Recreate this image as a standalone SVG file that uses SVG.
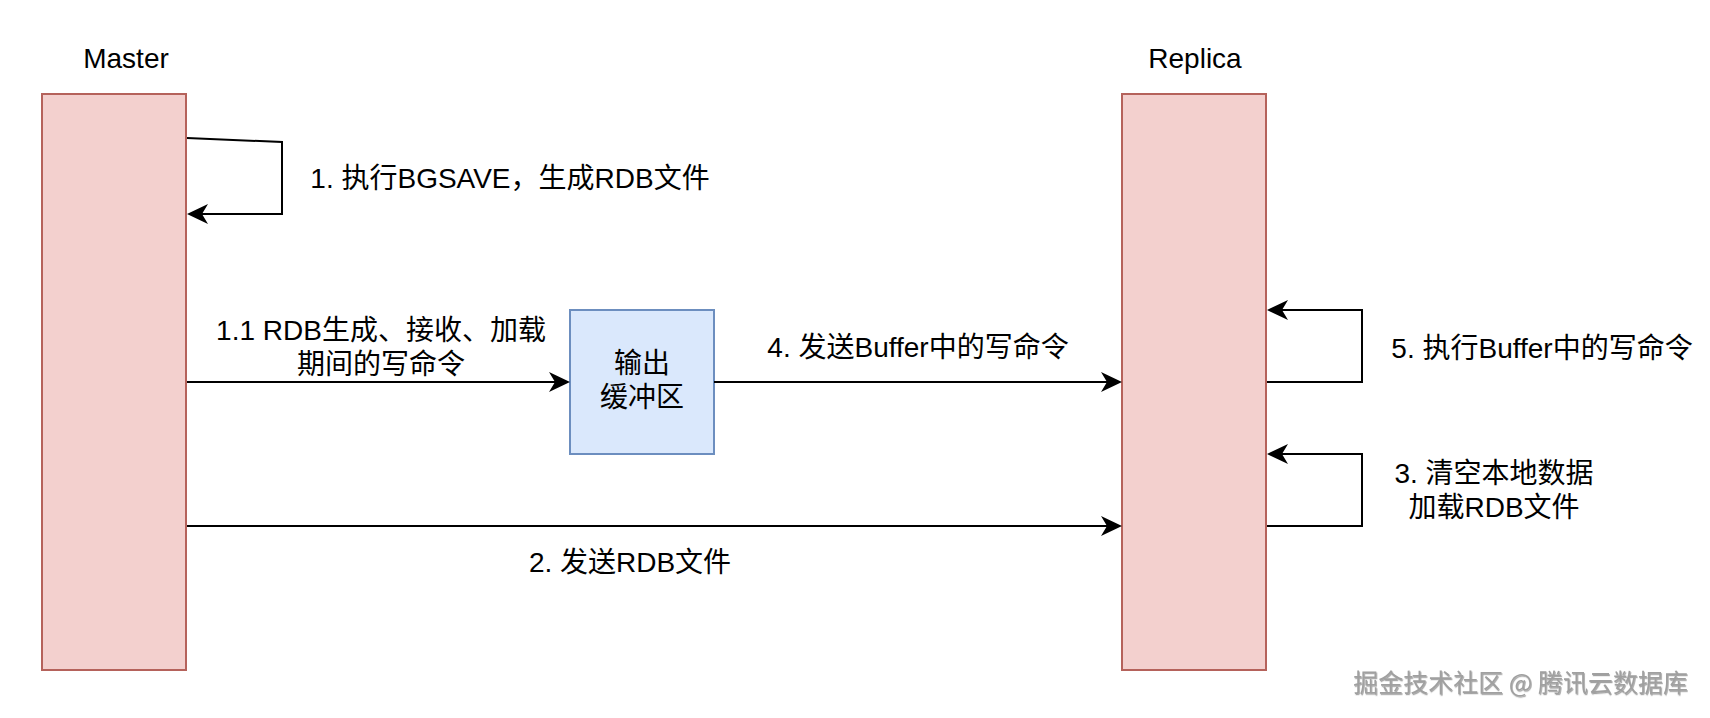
<svg xmlns="http://www.w3.org/2000/svg" width="1710" height="718" viewBox="0 0 1710 718">
<style>
.t{font-family:"Liberation Sans","Noto Sans CJK SC",sans-serif;font-size:28px;fill:#000}
.m{text-anchor:middle}
.node{fill:#f3d0ce;stroke:#b5625b;stroke-width:2}
.buf{fill:#dae8fc;stroke:#6c8ebf;stroke-width:2}
.c{fill:none;stroke:#000;stroke-width:2}
.wm{font-family:"Noto Sans CJK SC",sans-serif;font-size:25px;fill:#a0a0a0;text-anchor:end}
</style>
<defs>
<marker id="arr" viewBox="0 0 22 22" refX="6" refY="11" markerWidth="22" markerHeight="22" orient="auto" markerUnits="userSpaceOnUse">
<path d="M0,1 L21,11 L0,21 L6,11 Z" fill="#000"/>
</marker>
<filter id="emb" x="-5%" y="-20%" width="110%" height="150%">
<feDropShadow dx="0.8" dy="1.2" stdDeviation="0.4" flood-color="#444" flood-opacity="0.5"/>
</filter>
</defs>
<rect width="1710" height="718" fill="#fff"/>
<g id="master">
<rect class="node" x="42" y="94" width="144" height="576"/>
<text class="t m" x="126" y="68">Master</text>
</g>
<g id="replica">
<rect class="node" x="1122" y="94" width="144" height="576"/>
<text class="t m" x="1195" y="68">Replica</text>
</g>
<g id="buffer">
<rect class="buf" x="570" y="310" width="144" height="144"/>
<text class="t m" x="642" y="373">输出</text>
<text class="t m" x="642" y="407">缓冲区</text>
</g>
<g id="connectors">
<path class="c" d="M187,138 L282,142 L282,214 L202,214" marker-end="url(#arr)"/>
<path class="c" d="M187,382 L555,382" marker-end="url(#arr)"/>
<path class="c" d="M714,382 L1107,382" marker-end="url(#arr)"/>
<path class="c" d="M187,526 L1107,526" marker-end="url(#arr)"/>
<path class="c" d="M1267,382 L1362,382 L1362,310 L1282,310" marker-end="url(#arr)"/>
<path class="c" d="M1267,526 L1362,526 L1362,454 L1282,454" marker-end="url(#arr)"/>
</g>
<g id="labels">
<text class="t m" x="510" y="188">1. 执行BGSAVE，生成RDB文件</text>
<text class="t m" x="381" y="340">1.1 RDB生成、接收、加载</text>
<text class="t m" x="381" y="374">期间的写命令</text>
<text class="t m" x="918" y="357">4. 发送Buffer中的写命令</text>
<text class="t m" x="630" y="572">2. 发送RDB文件</text>
<text class="t m" x="1542" y="358">5. 执行Buffer中的写命令</text>
<text class="t m" x="1494" y="483">3. 清空本地数据</text>
<text class="t m" x="1494" y="517">加载RDB文件</text>
</g>
<text class="wm" x="1688" y="692" filter="url(#emb)">掘金技术社区 @ 腾讯云数据库</text>
</svg>
